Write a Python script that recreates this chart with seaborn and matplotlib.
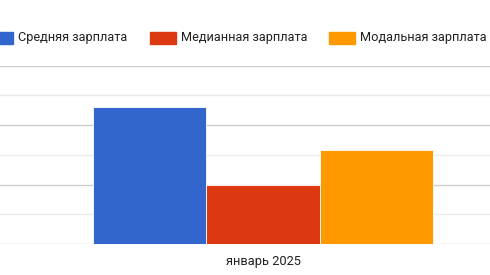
import matplotlib
matplotlib.use("Agg")
import matplotlib.pyplot as plt
import seaborn as sns
import pandas as pd
from matplotlib.patches import Rectangle

categories = ["январь 2025"]
series = ["Средняя зарплата", "Медианная зарплата", "Модальная зарплата"]
values = [92000, 39600, 63200]
colors = ["#3366cc", "#dc3912", "#ff9900"]

df = pd.DataFrame({
    "month": categories * len(series),
    "series": series,
    "value": values,
})

sns.set_theme(style="white")
plt.rcParams["font.family"] = ["Roboto", "DejaVu Sans"]

fig = plt.figure(figsize=(4.9, 2.75), dpi=100)
ax = fig.add_axes([0, (275 - 244) / 275, 1, (244 - 65.5) / 275])

sns.barplot(data=df, x="month", y="value", hue="series", palette=colors,
            width=0.8, ax=ax, legend=False, edgecolor="white", linewidth=0.6,
            saturation=1)

ax.set_ylim(0, 120000)
ax.set_yticks([0, 40000, 80000, 120000])
ax.set_yticks([20000, 60000, 100000], minor=True)
ax.grid(True, which="major", axis="y", color="#cccccc", linewidth=1)
ax.grid(True, which="minor", axis="y", color="#ebebeb", linewidth=1)
ax.set_axisbelow(True)
ax.tick_params(axis="y", which="both", left=False, labelleft=False)
ax.tick_params(axis="x", bottom=False, pad=2, labelsize=9.3, labelcolor="#222222")
ax.set_xlim(-263 / 425, (490 - 263) / 425)
for s in ax.spines.values():
    s.set_visible(False)
ax.set_xlabel("")
ax.set_ylabel("")

# legend
H = 275
sq_y = (H - 44.3) / H
sq_h = 12.7 / H
legend_items = [(-13, 18.3), (150, 181), (329, 360)]
for (sx, tx), lab, c in zip(legend_items, series, colors):
    fig.patches.append(Rectangle((sx / 490, sq_y), 26 / 490, sq_h,
                                 transform=fig.transFigure, color=c, zorder=5))
    fig.text(tx / 490, (H - 38) / H, lab, fontsize=9.2, color="#222222",
             va="center", ha="left")

fig.savefig("out.png", dpi=100)
